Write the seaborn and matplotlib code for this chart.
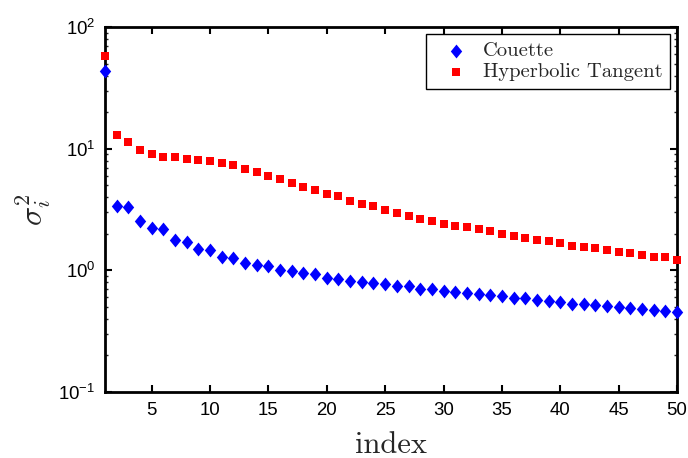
import numpy as np
import pandas as pd
import matplotlib
matplotlib.use("Agg")
import matplotlib.pyplot as plt
from matplotlib.path import Path
from matplotlib.ticker import LogLocator, NullFormatter, FixedLocator
import seaborn as sns

index = list(range(1, 51))
couette = [44, 3.36, 3.30, 2.55, 2.24, 2.20, 1.78, 1.72, 1.50, 1.46,
           1.30, 1.26, 1.16, 1.11, 1.08, 1.01, 0.98, 0.945, 0.93, 0.87,
           0.855, 0.82, 0.81, 0.79, 0.77, 0.75, 0.74, 0.71, 0.70, 0.68,
           0.665, 0.65, 0.635, 0.628, 0.617, 0.597, 0.589, 0.574, 0.561, 0.55,
           0.532, 0.526, 0.52, 0.506, 0.50, 0.49, 0.482, 0.473, 0.467, 0.458]
hyperbolic = [58.5, 12.9, 11.3, 9.7, 9.0, 8.6, 8.5, 8.3, 8.1, 7.96,
              7.7, 7.3, 6.85, 6.5, 6.0, 5.6, 5.25, 4.9, 4.6, 4.27,
              4.06, 3.76, 3.53, 3.36, 3.15, 2.98, 2.81, 2.66, 2.56, 2.42,
              2.33, 2.26, 2.20, 2.13, 2.01, 1.93, 1.86, 1.79, 1.73, 1.67,
              1.60, 1.57, 1.52, 1.46, 1.43, 1.38, 1.35, 1.30, 1.28, 1.23]
series_names = ["Couette", "Hyperbolic Tangent"]
xticks = [5, 10, 15, 20, 25, 30, 35, 40, 45, 50]

sns.set_theme(style="ticks")
plt.rcParams["font.family"] = ["Liberation Sans", "DejaVu Sans"]
plt.rcParams["axes.linewidth"] = 2.0

df = pd.DataFrame({
    "index": index * 2,
    "value": couette + hyperbolic,
    "series": [series_names[0]] * len(index) + [series_names[1]] * len(index),
})

diamond = Path([(0, 1), (0.82, 0), (0, -1), (-0.82, 0), (0, 1)],
               [Path.MOVETO, Path.LINETO, Path.LINETO, Path.LINETO, Path.CLOSEPOLY])

fig = plt.figure(figsize=(6.88, 4.58), dpi=100)
ax = fig.add_axes([105 / 688, 1 - 392 / 458, 572 / 688, (392 - 27.3) / 458])

sns.scatterplot(data=df[df["series"] == series_names[0]], x="index", y="value",
                marker=diamond, s=100, color="#0000ff", linewidth=0,
                label=series_names[0], ax=ax, zorder=3, clip_on=False)
sns.scatterplot(data=df[df["series"] == series_names[1]], x="index", y="value",
                marker="s", s=30, color="#ff0000", linewidth=0,
                label=series_names[1], ax=ax, zorder=3, clip_on=False)

ax.set_yscale("log")
ax.set_xlim(1, 50)
ax.set_ylim(0.1, 100)
ax.xaxis.set_major_locator(FixedLocator(xticks))
ax.xaxis.set_minor_locator(FixedLocator([]))
ax.yaxis.set_major_locator(LogLocator(base=10, numticks=10))
ax.yaxis.set_minor_locator(LogLocator(base=10, subs=np.arange(2, 10), numticks=10))
ax.yaxis.set_minor_formatter(NullFormatter())

ax.tick_params(axis="both", which="major", direction="in", length=5, width=1.5,
               top=True, right=True, labelsize=13.4, pad=7, colors="black")
ax.tick_params(axis="y", which="minor", direction="in", length=2.5, width=1.0,
               left=True, right=True)
for sp in ax.spines.values():
    sp.set_visible(True)
    sp.set_color("black")
    sp.set_linewidth(2.0)

ax.set_xlabel("index", fontfamily="cmr10", fontsize=22, labelpad=9)
ax.set_ylabel(r"$\sigma_i^2$", fontsize=23, math_fontfamily="cm", labelpad=4)

leg = ax.legend(loc="upper right", frameon=True, fancybox=False, shadow=False,
                prop={"family": "cmr10", "size": 14.8}, borderaxespad=0.32,
                handlelength=2.2, handletextpad=0.2, labelspacing=0.12,
                borderpad=0.38, markerscale=1.0)
leg.get_frame().set_edgecolor("black")
leg.get_frame().set_linewidth(1.0)
leg.get_frame().set_alpha(1.0)

fig.savefig("out.png", dpi=100, facecolor="white")
